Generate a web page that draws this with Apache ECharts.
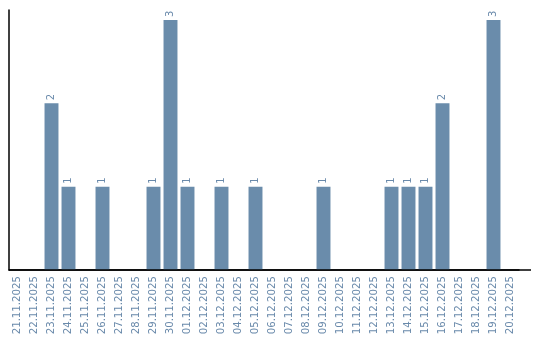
<!DOCTYPE html>
<html><head><meta charset="utf-8">
<script src="https://cdn.jsdelivr.net/npm/echarts@6/dist/echarts.min.js"></script>
<style>html,body{margin:0;padding:0;background:#fff}#c{width:540px;height:340px}</style>
</head><body><div id="c"></div>
<script>
const categories = ["21.11.2025","22.11.2025","23.11.2025","24.11.2025","25.11.2025","26.11.2025","27.11.2025","28.11.2025","29.11.2025","30.11.2025","01.12.2025","02.12.2025","03.12.2025","04.12.2025","05.12.2025","06.12.2025","07.12.2025","08.12.2025","09.12.2025","10.12.2025","11.12.2025","12.12.2025","13.12.2025","14.12.2025","15.12.2025","16.12.2025","17.12.2025","18.12.2025","19.12.2025","20.12.2025"];
const counts = [0,0,2,1,0,1,0,0,1,3,1,0,1,0,1,0,0,0,1,0,0,0,1,1,1,2,0,0,3,0];
const textColor = '#6a8aab';
const chart = echarts.init(document.getElementById('c'), null, {renderer:'canvas'});
chart.setOption({
  animation: false,
  grid: {left: 9, right: 21, top: 10, bottom: 70, containLabel: false},
  graphic: [{type: 'line', shape: {x1: 9, y1: 270, x2: 531, y2: 270}, style: {stroke: '#000', lineWidth: 1.5}, z: 100}],
  xAxis: {
    type: 'category', data: categories,
    axisLine: {show: true, lineStyle: {color: '#000', width: 1.5}},
    axisTick: {show: false},
    axisLabel: {rotate: 90, interval: 0, color: textColor, fontFamily: 'DejaVu Sans', fontSize: 10.2, margin: 6}
  },
  yAxis: {
    type: 'value', min: 0, max: 3.12,
    axisLine: {show: true, lineStyle: {color: '#000', width: 1.5}},
    axisTick: {show: false}, axisLabel: {show: false}, splitLine: {show: false}
  },
  series: [{
    type: 'bar', data: counts.map(v => v === 0 ? null : v),
    barCategoryGap: '18%',
    itemStyle: {color: '#6a8cab'},
    label: {show: true, position: 'top', rotate: 90, align: 'left', verticalAlign: 'middle', distance: 3,
      color: textColor, fontFamily: 'DejaVu Sans', fontSize: 10}
  }]
});
</script></body></html>
